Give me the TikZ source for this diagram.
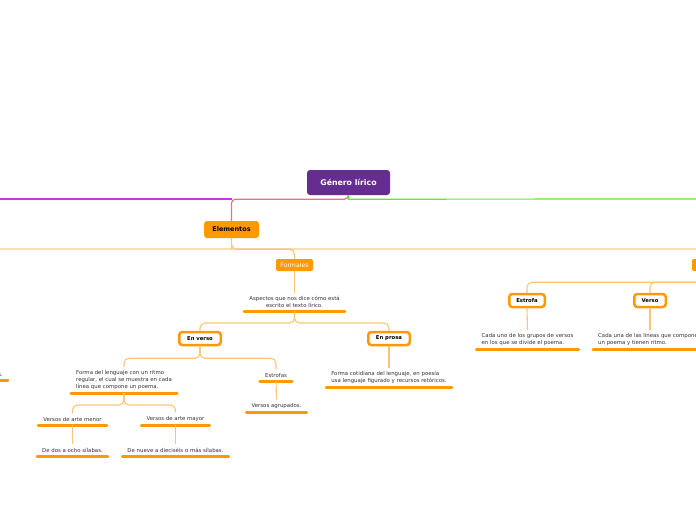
\documentclass[tikz,border=0pt]{standalone}
\usepackage{fontspec}
\setmainfont{DejaVu Sans}

\definecolor{mmpurple}{HTML}{662D91}
\definecolor{mmorange}{HTML}{FF9900}
\definecolor{mmline}{HTML}{FCC574}
\definecolor{mmpale}{HTML}{FADDB3}
\definecolor{mmgreen}{HTML}{5FE82F}
\definecolor{mmmagenta}{HTML}{C23BD6}
\definecolor{mmpink}{HTML}{E2748A}
\definecolor{mmtext}{HTML}{333333}

\tikzset{
  rootbox/.style={fill=mmpurple, text=white, rounded corners=3pt, inner sep=0pt,
    minimum width=83pt, minimum height=25pt, font=\fontsize{7.8}{9}\selectfont\bfseries},
  mainbox/.style={fill=mmorange, text=black, rounded corners=3pt, inner sep=0pt,
    minimum width=55pt, minimum height=17pt, font=\fontsize{6.5}{8}\selectfont\bfseries},
  subbox/.style={fill=mmorange, text=white, rounded corners=2pt, inner sep=0pt,
    minimum width=37pt, minimum height=12pt, font=\fontsize{6.2}{7}\selectfont},
  framebox/.style={draw=mmorange, line width=2.5pt, fill=white, text=black, rounded corners=3pt,
    inner sep=0pt, minimum height=13pt, font=\fontsize{5.3}{6}\selectfont\bfseries},
  topic/.style={text=mmtext, inner xsep=5pt, inner ysep=3.5pt, anchor=south,
    font=\fontsize{5.4}{6.6}\selectfont},
  bar/.style={mmorange, line width=3pt, line cap=round},
  link/.style={mmline, line width=1.1pt, rounded corners=5pt},
}

\begin{document}
\begin{tikzpicture}[x=1pt,y=-1pt]
  \useasboundingbox (0,0) rectangle (696,520);
  \clip (0,0) rectangle (696,520);

  % main boxes
  \node[rootbox] (root) at (348.5,182.5) {Género lírico};
  \node[mainbox] (elem) at (231.5,229.5) {Elementos};
  \node[subbox] (formales) at (294.5,265) {Formales};
  \node[subbox, minimum width=40pt] (rbox) at (712,265) {};

  % framed boxes
  \node[framebox, minimum width=41.5pt] (enverso) at (200,338.5) {En verso};
  \node[framebox, minimum width=41.5pt] (enprosa) at (389,338.5) {En prosa};
  \node[framebox, minimum width=35.5pt] (estrofa) at (527,300.5) {Estrofa};
  \node[framebox, minimum width=31.5pt] (verso) at (650,300.5) {Verso};

  % texts with bars
  \node[topic, align=center] (asp) at (294.5,311) {Aspectos que nos dice cómo está\\escrito el texto lírico.};
  \node[topic, align=left] (ritmo) at (124,393) {Forma del lenguaje con un ritmo\\regular, el cual se muestra en cada\\línea que compone un poema.};
  \node[topic] (estrofas) at (276,381) {Estrofas};
  \node[topic] (agrup) at (276.5,412) {Versos agrupados.};
  \node[topic] (menor) at (72.5,425) {Versos de arte menor};
  \node[topic] (mayor) at (175.5,425) {Versos de arte mayor};
  \node[topic] (dosocho) at (72.5,456) {De dos a ocho sílabas.};
  \node[topic] (nueve) at (175.5,456) {De nueve a dieciséis o más sílabas.};
  \node[topic, align=left] (cotid) at (389,387) {Forma cotidiana del lenguaje, en poesía\\usa lenguaje figurado y recursos retóricos.};
  \node[topic, align=left] (grupos) at (527.5,349) {Cada uno de los grupos de versos\\en los que se divide el poema.};
  \node[topic, align=left, anchor=south west] (lineas) at (593,349) {Cada una de las líneas que componen\\un poema y tienen ritmo.};
  \node[topic, anchor=south east] (cut) at (8,380) {s.};

  \foreach \n in {asp,ritmo,estrofas,agrup,menor,mayor,dosocho,nueve,cotid,grupos,lineas,cut}
    \draw[bar] (\n.south west) -- (\n.south east);

  % free ends
  \coordinate (offL) at (-5,199);
  \coordinate (offR) at (701,199);
  \coordinate (paleL) at (-5,249);
  \coordinate (paleR) at (701,249);

  % lines from the root
  \draw[mmmagenta, line width=1.2pt] (offL) -- (offL -| elem.north);
  \draw[mmpink, line width=1.2pt, rounded corners=4pt] (root.south) -- ++(0,4) -| (elem.north);
  \draw[mmgreen, line width=1.2pt] (root.south) -- ++(0,4) -- (offR);

  % lines from Elementos
  \draw[mmpale, line width=1.2pt] (paleL) -- (paleR);
  \draw[link] (elem.south) -- (elem.south |- paleL);
  \draw[link] (elem.south) -- ++(0,11) -| (formales.north);

  % left tree
  \draw[link] (formales.south) -- (asp.north);
  \draw[link] (asp.south) -- ++(0,12) -| (enverso.north);
  \draw[link] (asp.south) -- ++(0,12) -| (enprosa.north);
  \draw[link] (enverso.south) -- ++(0,12) -| (ritmo.north);
  \draw[link] (enverso.south) -- ++(0,12) -| (estrofas.north);
  \draw[link] (ritmo.south) -- ++(0,12) -| (menor.north);
  \draw[link] (ritmo.south) -- ++(0,12) -| (mayor.north);
  \draw[link] (menor.south) -- (dosocho.north);
  \draw[link] (mayor.south) -- (nueve.north);
  \draw[link] (estrofas.south) -- (agrup.north);
  \draw[link] (enprosa.south) -- (cotid.north);

  % right tree
  \draw[link] (rbox.south) -- ++(0,11) -| (estrofa.north);
  \draw[link] (rbox.south) -- ++(0,11) -| (verso.north);
  \draw[link] (estrofa.south) -- (grupos.north);
  \draw[link] (verso.south) -- (verso.south |- lineas.north);
\end{tikzpicture}
\end{document}
